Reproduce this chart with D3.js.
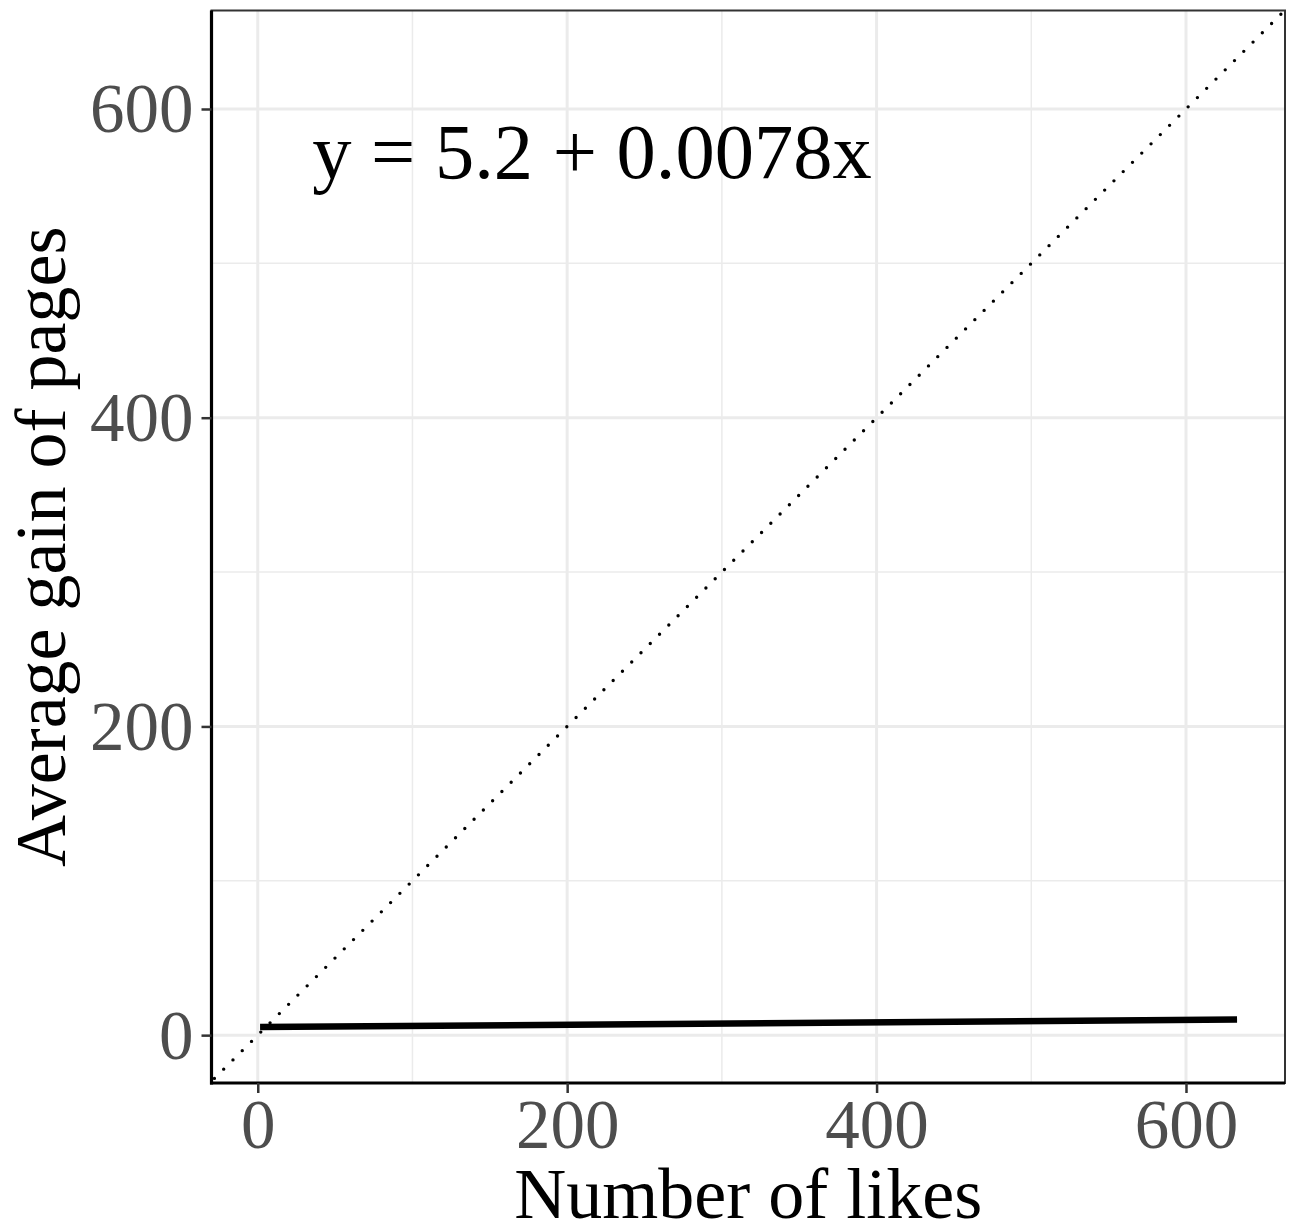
<!DOCTYPE html>
<html>
<head>
<meta charset="utf-8">
<script src="https://cdn.jsdelivr.net/npm/d3@7"></script>
<style>
  html, body { margin: 0; padding: 0; background: #fff; }
  svg { display: block; }
</style>
</head>
<body>
<svg id="chart" width="1291" height="1224"></svg>
<script>
// ---- data ----
const xTicks = [0, 200, 400, 600];
const yTicks = [0, 200, 400, 600];
const xMinor = [100, 300, 500];
const yMinor = [100, 300, 500];
const fitX = [1.5, 633];          // fitted line x range
const fitY = [5.2, 10.1];         // y = 5.2 + 0.0078x at both ends
const identityX = [-40, 700];     // dotted y = x reference line
const identityY = [-40, 700];
const xDomain = [-29.9, 664];
const yDomain = [-31.0, 663.8];
const equationText = "y = 5.2 + 0.0078x";
const equationPos = [216, 571];
const xTitle = "Number of likes";
const yTitle = "Average gain of pages";

// ---- layout ----
const svg = d3.select("#chart");
const P = { left: 211.5, right: 1285, top: 10.5, bottom: 1083 };
const font = "'Liberation Serif', 'Times New Roman', Times, serif";

const x = d3.scaleLinear().domain(xDomain).range([P.left, P.right]);
const y = d3.scaleLinear().domain(yDomain).range([P.bottom, P.top]);

svg.append("defs").append("clipPath").attr("id", "clip")
  .append("rect").attr("x", P.left).attr("y", P.top)
  .attr("width", P.right - P.left).attr("height", P.bottom - P.top);

const g = svg.append("g");

// minor grid
g.selectAll(".vminor").data(xMinor).join("line")
  .attr("x1", d => x(d)).attr("x2", d => x(d))
  .attr("y1", P.top).attr("y2", P.bottom)
  .attr("stroke", "#ebebeb").attr("stroke-width", 1.5);
g.selectAll(".hminor").data(yMinor).join("line")
  .attr("y1", d => y(d)).attr("y2", d => y(d))
  .attr("x1", P.left).attr("x2", P.right)
  .attr("stroke", "#ebebeb").attr("stroke-width", 1.5);
// major grid
g.selectAll(".vmajor").data(xTicks).join("line")
  .attr("x1", d => x(d)).attr("x2", d => x(d))
  .attr("y1", P.top).attr("y2", P.bottom)
  .attr("stroke", "#ebebeb").attr("stroke-width", 3);
g.selectAll(".hmajor").data(yTicks).join("line")
  .attr("y1", d => y(d)).attr("y2", d => y(d))
  .attr("x1", P.left).attr("x2", P.right)
  .attr("stroke", "#ebebeb").attr("stroke-width", 3);

const plot = svg.append("g").attr("clip-path", "url(#clip)");

// dotted identity line
const lineGen = d3.line().x(d => x(d[0])).y(d => y(d[1]));
plot.append("path")
  .datum(d3.zip(identityX, identityY))
  .attr("d", lineGen)
  .attr("fill", "none").attr("stroke", "#000")
  .attr("stroke-width", 3.4).attr("stroke-linecap", "round")
  .attr("stroke-dasharray", "0,13.1");

// fitted line
plot.append("path")
  .datum(d3.zip(fitX, fitY))
  .attr("d", lineGen)
  .attr("fill", "none").attr("stroke", "#000")
  .attr("stroke-width", 6.5).attr("stroke-linecap", "butt");

// panel border (top/right thin grey, left/bottom black axis lines)
svg.append("rect")
  .attr("x", P.left).attr("y", P.top)
  .attr("width", P.right - P.left).attr("height", P.bottom - P.top)
  .attr("fill", "none").attr("stroke", "#333").attr("stroke-width", 2);

// axes
const xAxis = d3.axisBottom(x).tickValues(xTicks).tickSize(10).tickPadding(0).tickFormat(d3.format("d"));
const yAxis = d3.axisLeft(y).tickValues(yTicks).tickSize(10).tickPadding(0).tickFormat(d3.format("d"));

const gx = svg.append("g").attr("transform", `translate(0,${P.bottom})`).call(xAxis);
const gy = svg.append("g").attr("transform", `translate(${P.left},0)`).call(yAxis);

[gx, gy].forEach(a => {
  a.select(".domain").attr("stroke", "#000").attr("stroke-width", 3.2);
  a.selectAll(".tick line").attr("stroke", "#333").attr("stroke-width", 2.5);
  a.selectAll(".tick text")
    .attr("font-family", font).attr("font-size", 69).attr("fill", "#4d4d4d");
});
gx.select(".domain").attr("d", `M${P.left - 1.5},0H${P.right}`);
gy.select(".domain").attr("d", `M0,${P.bottom + 1.5}V${P.top}`);
gx.selectAll(".tick text").attr("y", 65).attr("dy", 0);
gy.selectAll(".tick text").attr("x", -18).attr("dy", 23);

// axis titles
svg.append("text")
  .attr("x", (P.left + P.right) / 2).attr("y", 1218)
  .attr("text-anchor", "middle")
  .attr("font-family", font).attr("font-size", 72).attr("fill", "#000")
  .text(xTitle);

svg.append("text")
  .attr("transform", `translate(65,${(P.top + P.bottom) / 2}) rotate(-90)`)
  .attr("text-anchor", "middle")
  .attr("font-family", font).attr("font-size", 72).attr("fill", "#000")
  .text(yTitle);

// equation annotation
svg.append("text")
  .attr("x", x(equationPos[0])).attr("y", y(equationPos[1]))
  .attr("dy", 24)
  .attr("text-anchor", "middle")
  .attr("font-family", font).attr("font-size", 78.5).attr("fill", "#000")
  .text(equationText);
</script>
</body>
</html>
